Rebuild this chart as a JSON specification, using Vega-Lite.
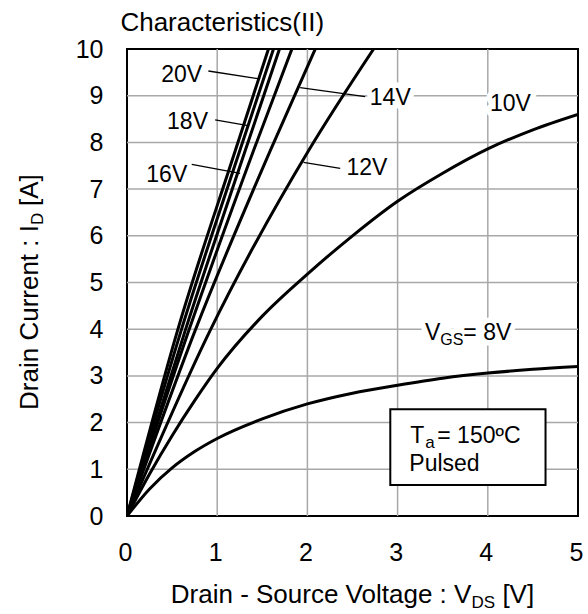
{
  "$schema": "https://vega.github.io/schema/vega-lite/v6.json",
  "width": 451,
  "height": 467,
  "autosize": "none",
  "padding": {"left": 127, "top": 49, "right": 10, "bottom": 98},
  "background": "white",
  "config": {
    "font": "Liberation Sans",
    "view": {"stroke": "black", "strokeWidth": 2}
  },
  "layer": [
    {
      "data": {"values": [{"gx": 1}, {"gx": 2}, {"gx": 3}, {"gx": 4}]},
      "mark": {"type": "rule", "color": "#a8a8a8", "strokeWidth": 1.5},
      "encoding": {
        "x": {
          "field": "gx", "type": "quantitative",
          "scale": {"domain": [0, 5], "nice": false},
          "axis": {
            "title": null, "values": [0, 1, 2, 3, 4, 5], "format": "d",
            "grid": false, "ticks": false, "domain": false,
            "labelFontSize": 25, "labelColor": "black", "labelPadding": 24, "labelOffset": -2,
            "labelFlush": false, "labelOverlap": false
          }
        }
      }
    },
    {
      "data": {"values": [{"gy": 1}, {"gy": 2}, {"gy": 3}, {"gy": 4}, {"gy": 5}, {"gy": 6}, {"gy": 7}, {"gy": 8}, {"gy": 9}]},
      "mark": {"type": "rule", "color": "#a8a8a8", "strokeWidth": 1.5},
      "encoding": {
        "y": {
          "field": "gy", "type": "quantitative",
          "scale": {"domain": [0, 10], "nice": false},
          "axis": {
            "title": null, "values": [0, 1, 2, 3, 4, 5, 6, 7, 8, 9, 10], "format": "d",
            "grid": false, "ticks": false, "domain": false,
            "labelFontSize": 25, "labelColor": "black", "labelPadding": 24,
            "labelFlush": false, "labelOverlap": false
          }
        }
      }
    },
    {
      "encoding": {
        "x": {
          "field": "x", "type": "quantitative",
          "scale": {"domain": [0, 5], "nice": false},
          "axis": {
            "title": null, "values": [0, 1, 2, 3, 4, 5], "format": "d",
            "grid": false, "ticks": false, "domain": false,
            "labelFontSize": 25, "labelColor": "black", "labelPadding": 24, "labelOffset": -2,
            "labelFlush": false, "labelOverlap": false
          }
        },
        "y": {
          "field": "y", "type": "quantitative",
          "scale": {"domain": [0, 10], "nice": false},
          "axis": {
            "title": null, "values": [0, 1, 2, 3, 4, 5, 6, 7, 8, 9, 10], "format": "d",
            "grid": false, "ticks": false, "domain": false,
            "labelFontSize": 25, "labelColor": "black", "labelPadding": 24,
            "labelFlush": false, "labelOverlap": false
          }
        }
      },
      "layer": [
        {
          "data": {"values": [
            {"t": "20V", "x": 0.607, "y": 9.443},
            {"t": "18V", "x": 0.671, "y": 8.443},
            {"t": "16V", "x": 0.441, "y": 7.302},
            {"t": "14V", "x": 2.919, "y": 8.944},
            {"t": "12V", "x": 2.66, "y": 7.458},
            {"t": "10V", "x": 4.251, "y": 8.822}
          ]},
          "mark": {"type": "text", "align": "center", "baseline": "middle", "fontSize": 23, "color": "white", "stroke": "white", "strokeWidth": 11, "strokeJoin": "round"},
          "encoding": {"text": {"field": "t"}}
        },
        {
          "data": {"values": [{"t": "V", "x": 3.474, "y": 3.769}]},
          "mark": {"type": "text", "align": "right", "baseline": "alphabetic", "fontSize": 23, "color": "white", "stroke": "white", "strokeWidth": 11, "strokeJoin": "round"},
          "encoding": {"text": {"field": "t"}}
        },
        {
          "data": {"values": [{"t": "GS", "x": 3.474, "y": 3.769}]},
          "mark": {"type": "text", "align": "left", "baseline": "alphabetic", "fontSize": 16, "dy": 5, "color": "white", "stroke": "white", "strokeWidth": 11, "strokeJoin": "round"},
          "encoding": {"text": {"field": "t"}}
        },
        {
          "data": {"values": [{"t": "= 8V", "x": 3.474, "y": 3.769}]},
          "mark": {"type": "text", "align": "left", "baseline": "alphabetic", "fontSize": 23, "dx": 23, "color": "white", "stroke": "white", "strokeWidth": 11, "strokeJoin": "round"},
          "encoding": {"text": {"field": "t"}}
        },
        {
          "data": {"values": [
            {"vgs": "20V", "x": 0, "y": 0}, {"vgs": "20V", "x": 0.56, "y": 3.97}, {"vgs": "20V", "x": 1.2, "y": 7.82}, {"vgs": "20V", "x": 1.568, "y": 10},
            {"vgs": "18V", "x": 0, "y": 0}, {"vgs": "18V", "x": 0.6, "y": 3.97}, {"vgs": "18V", "x": 1.25, "y": 7.82}, {"vgs": "18V", "x": 1.624, "y": 10},
            {"vgs": "16V", "x": 0, "y": 0}, {"vgs": "16V", "x": 0.645, "y": 3.97}, {"vgs": "16V", "x": 1.31, "y": 7.82}, {"vgs": "16V", "x": 1.69, "y": 10},
            {"vgs": "15V", "x": 0, "y": 0}, {"vgs": "15V", "x": 0.685, "y": 3.97}, {"vgs": "15V", "x": 1.402, "y": 7.82}, {"vgs": "15V", "x": 1.828, "y": 10},
            {"vgs": "14V", "x": 0, "y": 0}, {"vgs": "14V", "x": 0.755, "y": 3.97}, {"vgs": "14V", "x": 1.587, "y": 7.82}, {"vgs": "14V", "x": 2.087, "y": 10},
            {"vgs": "12V", "x": 0, "y": 0}, {"vgs": "12V", "x": 0.921, "y": 3.97}, {"vgs": "12V", "x": 2.012, "y": 7.82}, {"vgs": "12V", "x": 2.734, "y": 10},
            {"vgs": "10V", "x": 0, "y": 0}, {"vgs": "10V", "x": 0.25, "y": 0.9}, {"vgs": "10V", "x": 0.5, "y": 1.72}, {"vgs": "10V", "x": 0.75, "y": 2.47},
            {"vgs": "10V", "x": 1, "y": 3.16}, {"vgs": "10V", "x": 1.5, "y": 4.28}, {"vgs": "10V", "x": 2, "y": 5.18}, {"vgs": "10V", "x": 2.5, "y": 6.0},
            {"vgs": "10V", "x": 3, "y": 6.74}, {"vgs": "10V", "x": 3.5, "y": 7.34}, {"vgs": "10V", "x": 4, "y": 7.86}, {"vgs": "10V", "x": 4.5, "y": 8.27},
            {"vgs": "10V", "x": 5, "y": 8.6},
            {"vgs": "8V", "x": 0, "y": 0}, {"vgs": "8V", "x": 0.25, "y": 0.58}, {"vgs": "8V", "x": 0.5, "y": 1.03}, {"vgs": "8V", "x": 0.75, "y": 1.38},
            {"vgs": "8V", "x": 1, "y": 1.66}, {"vgs": "8V", "x": 1.5, "y": 2.08}, {"vgs": "8V", "x": 2, "y": 2.4}, {"vgs": "8V", "x": 2.5, "y": 2.63},
            {"vgs": "8V", "x": 3, "y": 2.8}, {"vgs": "8V", "x": 3.5, "y": 2.95}, {"vgs": "8V", "x": 4, "y": 3.06}, {"vgs": "8V", "x": 4.5, "y": 3.14},
            {"vgs": "8V", "x": 5, "y": 3.2}
          ]},
          "mark": {"type": "line", "color": "black", "strokeWidth": 3, "interpolate": "monotone", "clip": true},
          "encoding": {"detail": {"field": "vgs"}}
        },
        {
          "data": {"values": [
            {"x": 0.902, "y": 9.529, "x2": 1.476, "y2": 9.358},
            {"x": 0.977, "y": 8.48, "x2": 1.343, "y2": 8.358},
            {"x": 0.718, "y": 7.531, "x2": 1.254, "y2": 7.338},
            {"x": 2.641, "y": 8.979, "x2": 1.92, "y2": 9.171},
            {"x": 2.364, "y": 7.445, "x2": 1.957, "y2": 7.574}
          ]},
          "mark": {"type": "rule", "color": "black", "strokeWidth": 1.3},
          "encoding": {"x2": {"field": "x2"}, "y2": {"field": "y2"}}
        },
        {
          "data": {"values": [{"x": 2.919, "x2": 4.64, "y": 2.285, "y2": 0.664}]},
          "mark": {"type": "rect", "fill": "white", "stroke": "black", "strokeWidth": 2},
          "encoding": {"x2": {"field": "x2"}, "y2": {"field": "y2"}}
        },
        {
          "data": {"values": [
            {"t": "20V", "x": 0.607, "y": 9.443},
            {"t": "18V", "x": 0.671, "y": 8.443},
            {"t": "16V", "x": 0.441, "y": 7.302},
            {"t": "14V", "x": 2.919, "y": 8.944},
            {"t": "12V", "x": 2.66, "y": 7.458},
            {"t": "10V", "x": 4.251, "y": 8.822}
          ]},
          "mark": {"type": "text", "align": "center", "baseline": "middle", "fontSize": 23, "color": "black"},
          "encoding": {"text": {"field": "t"}}
        },
        {
          "data": {"values": [{"t": "V", "x": 3.474, "y": 3.769}, {"t": "T", "x": 3.296, "y": 1.559}]},
          "mark": {"type": "text", "align": "right", "baseline": "alphabetic", "fontSize": 23, "color": "black"},
          "encoding": {"text": {"field": "t"}}
        },
        {
          "data": {"values": [{"t": "GS", "x": 3.474, "y": 3.769}]},
          "mark": {"type": "text", "align": "left", "baseline": "alphabetic", "fontSize": 16, "dy": 5, "color": "black"},
          "encoding": {"text": {"field": "t"}}
        },
        {
          "data": {"values": [{"t": "= 8V", "x": 3.474, "y": 3.769}]},
          "mark": {"type": "text", "align": "left", "baseline": "alphabetic", "fontSize": 23, "dx": 23, "color": "black"},
          "encoding": {"text": {"field": "t"}}
        },
        {
          "data": {"values": [{"t": "a", "x": 3.296, "y": 1.559}]},
          "mark": {"type": "text", "align": "left", "baseline": "alphabetic", "fontSize": 17, "dx": 1, "dy": 5, "color": "black"},
          "encoding": {"text": {"field": "t"}}
        },
        {
          "data": {"values": [{"t": "= 150ºC", "x": 3.296, "y": 1.559}]},
          "mark": {"type": "text", "align": "left", "baseline": "alphabetic", "fontSize": 23, "dx": 13, "color": "black"},
          "encoding": {"text": {"field": "t"}}
        },
        {
          "data": {"values": [{"t": "Pulsed", "x": 3.13, "y": 0.953}]},
          "mark": {"type": "text", "align": "left", "baseline": "alphabetic", "fontSize": 23, "color": "black"},
          "encoding": {"text": {"field": "t"}}
        },
        {
          "data": {"values": [{"t": "Characteristics(II)", "x": -0.073, "y": 10.392}]},
          "mark": {"type": "text", "align": "left", "baseline": "alphabetic", "fontSize": 26, "color": "black"},
          "encoding": {"text": {"field": "t"}}
        },
        {
          "data": {"values": [{"t": "Drain - Source Voltage : V", "x": 3.818, "y": -1.869}]},
          "mark": {"type": "text", "align": "right", "baseline": "alphabetic", "fontSize": 26, "color": "black"},
          "encoding": {"text": {"field": "t"}}
        },
        {
          "data": {"values": [{"t": "DS", "x": 3.818, "y": -1.869}]},
          "mark": {"type": "text", "align": "left", "baseline": "alphabetic", "fontSize": 17, "dy": 5, "color": "black"},
          "encoding": {"text": {"field": "t"}}
        },
        {
          "data": {"values": [{"t": "[V]", "x": 3.818, "y": -1.869}]},
          "mark": {"type": "text", "align": "left", "baseline": "alphabetic", "fontSize": 26, "dx": 31, "color": "black"},
          "encoding": {"text": {"field": "t"}}
        },
        {
          "data": {"values": [{"t": "Drain Current : I", "x": -0.992, "y": 6.231}]},
          "mark": {"type": "text", "align": "right", "baseline": "alphabetic", "angle": 270, "fontSize": 26, "color": "black"},
          "encoding": {"text": {"field": "t"}}
        },
        {
          "data": {"values": [{"t": "D", "x": -0.992, "y": 6.231}]},
          "mark": {"type": "text", "align": "left", "baseline": "alphabetic", "angle": 270, "fontSize": 17, "dy": 5, "color": "black"},
          "encoding": {"text": {"field": "t"}}
        },
        {
          "data": {"values": [{"t": "[A]", "x": -0.992, "y": 6.231}]},
          "mark": {"type": "text", "align": "left", "baseline": "alphabetic", "angle": 270, "fontSize": 26, "dx": 19, "color": "black"},
          "encoding": {"text": {"field": "t"}}
        }
      ]
    }
  ]
}
